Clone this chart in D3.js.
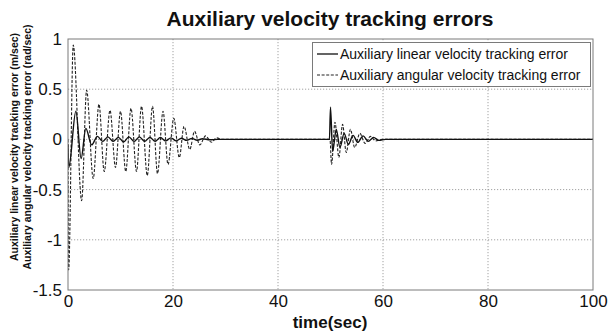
<!DOCTYPE html>
<html>
<head>
<meta charset="utf-8">
<script src="https://cdn.jsdelivr.net/npm/d3@7"></script>
<style>
  html, body { margin: 0; padding: 0; background: #fff; }
  svg { display: block; font-family: "Liberation Sans", Arial, sans-serif; }
</style>
</head>
<body>
<svg id="chart" width="608" height="335"></svg>
<script>
// ---- data ----
const xTicks = [0, 20, 40, 60, 80, 100];
const yTicks = [1, 0.5, 0, -0.5, -1, -1.5];
const xTickLabels = ["0", "20", "40", "60", "80", "100"];
const yTickLabels = ["1", "0.5", "0", "-0.5", "-1", "-1.5"];

const seriesNames = ["Auxiliary linear velocity tracking error", "Auxiliary angular velocity tracking error"];

// linear velocity tracking error (solid)
const linearT = [0, 0.15, 1.5, 2.5, 3.4, 4.5, 5.6, 6.6, 7.6, 8.6, 9.6, 10.6, 11.6, 12.6, 13.6, 14.6, 15.6, 16.6, 17.6, 18.6, 19.6, 20.6, 21.6, 22.6, 23.6, 24.6, 25.6, 27, 28.5, 49.8, 50.0, 50.4, 51.1, 51.8, 52.6, 53.4, 54.3, 55.2, 56.2, 57.2, 58.2, 59.2, 60.5, 100];
const linearV = [-0.05, -0.28, 0.28, -0.19, 0.11, -0.055, 0.03, -0.02, 0.025, -0.02, 0.02, -0.025, 0.025, -0.02, 0.025, -0.02, 0.02, -0.02, 0.02, -0.015, 0.015, -0.015, 0.012, -0.01, 0.01, -0.008, 0.006, -0.004, 0, 0, 0.32, -0.12, 0.1, -0.08, 0.06, -0.05, 0.04, -0.03, 0.035, -0.02, 0.02, -0.01, 0, 0];

// angular velocity tracking error (dashed)
const angularT = [0, 0.12, 1.0, 2.6, 3.55, 4.8, 5.9, 6.9, 8.0, 9.05, 10.0, 11.0, 12.0, 13.05, 14.0, 15.1, 16.1, 17.05, 18.1, 19.05, 20.15, 21.2, 22.1, 23.2, 24.1, 25.1, 26.2, 27.3, 28.3, 29.5, 49.9, 50.2, 50.85, 51.6, 52.3, 53.0, 53.8, 54.6, 55.6, 56.6, 57.6, 58.6, 59.8, 100];
const angularV = [0, -1.3, 0.94, -0.61, 0.49, -0.39, 0.35, -0.32, 0.29, -0.28, 0.28, -0.32, 0.31, -0.32, 0.33, -0.36, 0.33, -0.34, 0.28, -0.25, 0.21, -0.18, 0.13, -0.10, 0.08, -0.055, 0.035, -0.028, 0.015, 0, 0, -0.25, 0.17, -0.18, 0.15, -0.13, 0.1, -0.08, 0.06, -0.04, 0.03, -0.015, 0, 0];

// ---- drawing ----
const svg = d3.select("#chart");
const L = 68, R = 593, T = 39, B = 290;
const x = d3.scaleLinear().domain([0, 100]).range([L, R]);
const y = d3.scaleLinear().domain([-1.5, 1]).range([B, T]);

// grid
const grid = svg.append("g").attr("stroke", "#8a8a8a").attr("stroke-width", 0.8).attr("stroke-dasharray", "1.2,1.8");
grid.selectAll("line.vx").data(xTicks.filter(d => d > 0 && d < 100)).join("line")
  .attr("x1", d => x(d)).attr("x2", d => x(d)).attr("y1", T).attr("y2", B);
grid.selectAll("line.hy").data(yTicks.filter(d => d > -1.5 && d < 1)).join("line")
  .attr("x1", L).attr("x2", R).attr("y1", d => y(d)).attr("y2", d => y(d));

// axes (labels only, MATLAB style)
const xAxis = d3.axisBottom(x).tickValues(xTicks).tickSize(0).tickPadding(0)
  .tickFormat((d, i) => xTickLabels[i]);
const gx = svg.append("g").attr("transform", `translate(0,${B})`).call(xAxis);
gx.select(".domain").remove();
gx.selectAll("text").attr("font-size", 17).attr("fill", "#111")
  .attr("font-family", "'Liberation Sans', Arial, sans-serif").attr("dy", "0").attr("y", 17);

const yAxis = d3.axisLeft(y).tickValues(yTicks).tickSize(0).tickPadding(6)
  .tickFormat((d, i) => yTickLabels[i]);
const gy = svg.append("g").attr("transform", `translate(${L},0)`).call(yAxis);
gy.select(".domain").remove();
gy.selectAll("text").attr("font-size", 17).attr("fill", "#111")
  .attr("font-family", "'Liberation Sans', Arial, sans-serif");

// lines
const lineGen = d3.line().x(d => x(d[0])).y(d => y(d[1])).curve(d3.curveMonotoneX);
const linearData = linearT.map((t, i) => [t, linearV[i]]);
const angularData = angularT.map((t, i) => [t, angularV[i]]);

const clip = svg.append("clipPath").attr("id", "clip").append("rect")
  .attr("x", L).attr("y", T).attr("width", R - L).attr("height", B - T);
const plot = svg.append("g").attr("clip-path", "url(#clip)");

plot.append("path").datum(angularData).attr("d", lineGen)
  .attr("fill", "none").attr("stroke", "#222").attr("stroke-width", 1.1)
  .attr("stroke-dasharray", "3,1.6");
plot.append("path").datum(linearData).attr("d", lineGen)
  .attr("fill", "none").attr("stroke", "#111").attr("stroke-width", 1.4);

// frame
svg.append("rect").attr("x", L).attr("y", T).attr("width", R - L).attr("height", B - T)
  .attr("fill", "none").attr("stroke", "#7a7a7a").attr("stroke-width", 1);

// legend
const lg = svg.append("g");
lg.append("rect").attr("x", 312.5).attr("y", 42.5).attr("width", 278).attr("height", 44)
  .attr("fill", "#fff").attr("stroke", "#7a7a7a").attr("stroke-width", 1);
const legRows = [{ name: seriesNames[0], dash: null, yy: 54 }, { name: seriesNames[1], dash: "3,1.6", yy: 75 }];
legRows.forEach(r => {
  lg.append("line").attr("x1", 317).attr("x2", 338).attr("y1", r.yy).attr("y2", r.yy)
    .attr("stroke", "#222").attr("stroke-width", r.dash ? 1.1 : 1.4)
    .attr("stroke-dasharray", r.dash);
  lg.append("text").attr("x", 340).attr("y", r.yy + 5).attr("font-size", 14).attr("fill", "#111")
    .text(r.name);
});

// title
svg.append("text").attr("x", 330).attr("y", 26).attr("text-anchor", "middle")
  .attr("font-size", 21).attr("font-weight", "bold").attr("fill", "#111")
  .text("Auxiliary velocity tracking errors");

// x label
svg.append("text").attr("x", 330).attr("y", 328).attr("text-anchor", "middle")
  .attr("font-size", 17).attr("font-weight", "bold").attr("fill", "#111")
  .text("time(sec)");

// y labels (two lines)
const yl = svg.append("text").attr("transform", "translate(0,147) rotate(-90)")
  .attr("text-anchor", "middle").attr("font-size", 10.5).attr("font-weight", "bold").attr("fill", "#111");
yl.append("tspan").attr("x", 0).attr("y", 18).text("Auxiliary linear velocity tracking error (m/sec)");
yl.append("tspan").attr("x", 0).attr("y", 31).text("Auxiliary angular velocity tracking error (rad/sec)");
</script>
</body>
</html>
